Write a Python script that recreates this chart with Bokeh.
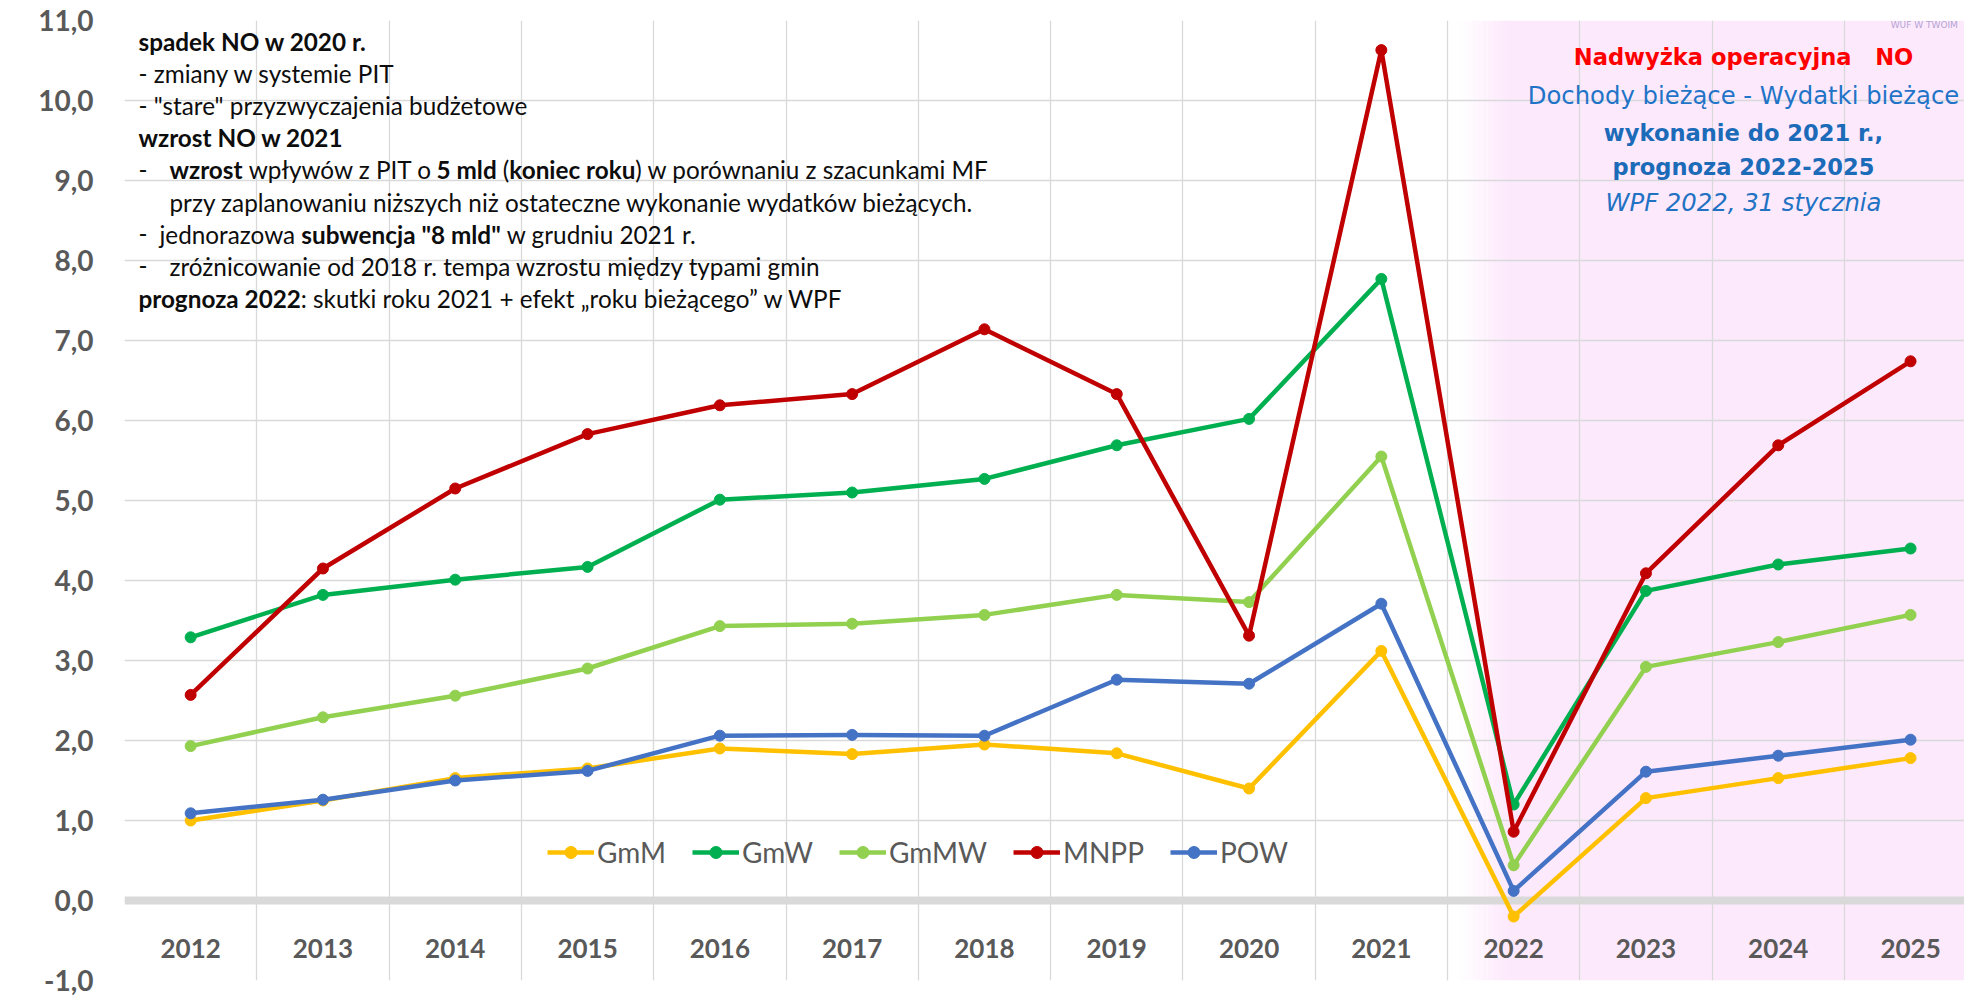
import glob
import math
import numpy as np
from bokeh.plotting import figure
from bokeh.models import FixedTicker, Grid, Span, Legend, LegendItem, Label, ColumnDataSource
from bokeh.core.properties import value
from bokeh.embed import file_html
from bokeh.resources import INLINE

# ---------------- data ----------------
years = ["2012", "2013", "2014", "2015", "2016", "2017", "2018",
         "2019", "2020", "2021", "2022", "2023", "2024", "2025"]
GmM = [1.00, 1.25, 1.53, 1.65, 1.90, 1.83, 1.95, 1.84, 1.40, 3.12, -0.20, 1.28, 1.53, 1.78]
GmW = [3.29, 3.82, 4.01, 4.17, 5.01, 5.10, 5.27, 5.69, 6.02, 7.77, 1.20, 3.87, 4.20, 4.40]
GmMW = [1.93, 2.29, 2.56, 2.90, 3.43, 3.46, 3.57, 3.82, 3.73, 5.55, 0.44, 2.92, 3.23, 3.57]
MNPP = [2.57, 4.15, 5.15, 5.83, 6.19, 6.33, 7.14, 6.33, 3.31, 10.63, 0.86, 4.09, 5.69, 6.74]
POW = [1.09, 1.26, 1.50, 1.62, 2.06, 2.07, 2.06, 2.76, 2.71, 3.71, 0.12, 1.61, 1.81, 2.01]
series_names = ["GmM", "GmW", "GmMW", "MNPP", "POW"]
series_values = [GmM, GmW, GmMW, MNPP, POW]
series_colors = ["#FFC000", "#00B050", "#92D050", "#C00000", "#4472C4"]
y_ticks = list(range(-1, 12))
forecast_start = "2022"

# ---------------- text measurement helpers ----------------
try:
    from PIL import ImageFont
except Exception:
    ImageFont = None

_FONT_FILES = {
    ("Lato", "normal"): ["Lato-Regular.ttf"],
    ("Lato", "bold"): ["Lato-Bold.ttf"],
    ("DejaVu Sans", "normal"): ["DejaVuSans.ttf"],
    ("DejaVu Sans", "bold"): ["DejaVuSans-Bold.ttf"],
    ("DejaVu Sans", "italic"): ["DejaVuSans-Oblique.ttf"],
}
_font_cache = {}


def _font(family, style):
    key = (family, style)
    if key in _font_cache:
        return _font_cache[key]
    f = None
    if ImageFont is not None:
        for n in _FONT_FILES.get(key, []):
            hits = glob.glob(f"/usr/share/fonts/**/{n}", recursive=True) + \
                glob.glob(f"/usr/local/share/fonts/**/{n}", recursive=True)
            if hits:
                try:
                    f = ImageFont.truetype(hits[0], 200)
                    break
                except Exception:
                    f = None
    _font_cache[key] = f
    return f


def text_w(s, family, style, size):
    f = _font(family, style)
    if f is not None:
        return f.getlength(s) * size / 200.0
    return len(s) * size * (0.5 if family == "Lato" else 0.6)


# ---------------- figure ----------------
FRAME_LEFT_PAGE = 124   # page px of frame left edge (page has no margin)
FRAME_TOP_PAGE = 20
PX_PER_CAT = 132.3
FRAME_W = 1840
X_END = FRAME_W / PX_PER_CAT

p = figure(frame_width=FRAME_W, frame_height=960, x_range=(0, X_END), y_range=(-1, 11),
           output_backend="svg", toolbar_location=None, x_axis_location=None,
           min_border_left=FRAME_LEFT_PAGE, min_border_right=0,
           min_border_top=FRAME_TOP_PAGE, min_border_bottom=17)
p.outline_line_color = None
p.background_fill_color = "white"
p.border_fill_color = "white"

# pink forecast background with soft gradient edge
fs = years.index(forecast_start)
pink = (253, 233, 252)
steps = 10
g0, g1 = fs + 0.08, fs + 0.45
edges = np.linspace(g0, g1, steps + 1)
for i in range(steps):
    t = (i + 0.5) / steps
    c = tuple(int(round(255 + (pc - 255) * t)) for pc in pink)
    p.quad(left=[edges[i]], right=[edges[i + 1]], bottom=[-1], top=[11],
           color="#%02x%02x%02x" % c, line_color=None, level="image")
p.quad(left=[g1], right=[X_END], bottom=[-1], top=[11], color="#%02x%02x%02x" % pink,
       line_color=None, level="image")

# grids
p.ygrid.ticker = FixedTicker(ticks=y_ticks)
p.ygrid.grid_line_color = "#D9D9D9"
p.ygrid.grid_line_width = 1.3
p.add_layout(Grid(dimension=0, ticker=FixedTicker(ticks=list(range(len(years) + 1))),
                  grid_line_color="#D9D9D9", grid_line_width=1.3))
p.add_layout(Span(location=0, dimension="width", line_color="#D9D9D9", line_width=8,
                  level="underlay"))

# y axis
p.yaxis.ticker = FixedTicker(ticks=y_ticks)
p.yaxis.major_label_overrides = {t: f"{t},0" for t in y_ticks}
p.yaxis.major_label_text_font = "Lato"
p.yaxis.major_label_text_font_style = "bold"
p.yaxis.major_label_text_font_size = "28px"
p.yaxis.major_label_text_color = "#595959"
p.yaxis.major_label_standoff = 31
p.yaxis.major_tick_out = 0
p.yaxis.major_tick_in = 0
p.yaxis.minor_tick_out = 0
p.yaxis.minor_tick_in = 0
p.yaxis.axis_line_color = None

p.add_layout(Label(x=-0.78, y=10.45, text="Miliardy", angle=math.pi / 2,
                   text_align="center", text_baseline="middle",
                   text_font="DejaVu Sans", text_font_style="bold",
                   text_font_size="14px", text_color="#808080"))

# series
xs = np.arange(len(years)) + 0.5
items = []
for name, vals, color in zip(series_names, series_values, series_colors):
    rl = p.line(xs, vals, line_width=4.5, line_color=color, line_join="round")
    rs = p.scatter(xs, vals, size=11, fill_color=color, line_color=color)
    items.append(LegendItem(label=name, renderers=[rl, rs]))

# year labels inside plot
p.text(x=xs, y=[-0.6] * len(years), text=years, text_align="center", text_baseline="middle",
       text_font=value("Lato"), text_font_style="bold", text_font_size="26px",
       text_color="#595959")

legend = Legend(items=items, orientation="horizontal", location=(423, 111),
                glyph_width=47, glyph_height=30, label_height=30, label_standoff=3,
                spacing=26, padding=0, margin=0,
                label_text_font="Lato", label_text_font_size="28px",
                label_text_color="#595959",
                border_line_color=None, background_fill_alpha=0)
p.add_layout(legend)

# ---------------- left annotation block ----------------
fit_line = "przy zaplanowaniu niższych niż ostateczne wykonanie wydatków bieżących."
ls = 802.0 / text_w(fit_line, "Lato", "normal", 1.0)
ls = max(18.0, min(28.0, ls))

B, R = "bold", "normal"
left_parts = [
    [(138, [("spadek NO w 2020 r.", B)])],
    [(138, [("- zmiany w systemie PIT", R)])],
    [(138, [("- \"stare\" przyzwyczajenia budżetowe", R)])],
    [(138, [("wzrost NO w 2021", B)])],
    [(138, [("-", R)]),
     (169, [("wzrost", B), (" wpływów z PIT o ", R), ("5 mld", B), (" (", R),
            ("koniec roku", B), (") w porównaniu z szacunkami MF", R)])],
    [(169, [(fit_line, R)])],
    [(138, [("-", R)]),
     (159, [("jednorazowa ", R), ("subwencja \"8 mld\"", B), (" w grudniu 2021 r.", R)])],
    [(138, [("-", R)]),
     (169, [("zróżnicowanie od 2018 r. tempa wzrostu między typami gmin", R)])],
    [(138, [("prognoza 2022", B),
            (": skutki roku 2021 + efekt „roku bieżącego” w WPF", R)])],
]
segs = {B: dict(t=[], xo=[], yo=[]), R: dict(t=[], xo=[], yo=[])}
for li, groups in enumerate(left_parts):
    ypx = 41 + 32.1 * li
    for xpx, parts in groups:
        off = xpx - FRAME_LEFT_PAGE
        for txt, st in parts:
            lead = txt[:len(txt) - len(txt.lstrip(" "))]
            shown = txt.strip(" ")
            segs[st]["t"].append(shown)
            segs[st]["xo"].append(off + text_w(lead, "Lato", st, ls))
            segs[st]["yo"].append(ypx - FRAME_TOP_PAGE)
            off += text_w(txt, "Lato", st, ls)
for st, d in segs.items():
    n = len(d["t"])
    src = ColumnDataSource(dict(x=[0] * n, y=[11] * n, t=d["t"], xo=d["xo"], yo=d["yo"]))
    p.text(x="x", y="y", text="t", x_offset="xo", y_offset="yo", source=src,
           text_align="left", text_baseline="middle", text_font=value("Lato"),
           text_font_style=st, text_font_size=f"{ls:.1f}px", text_color="#0D0D0D")

# ---------------- right title block ----------------
rs_ = 432.0 / text_w("Dochody bieżące - Wydatki bieżące", "DejaVu Sans", "normal", 1.0)
rs_ = max(17.0, min(26.0, rs_))
right_lines = [
    (56, "Nadwyżka operacyjna\u00a0\u00a0\u00a0NO", "bold", "#FF0000", 0.93),
    (95, "Dochody bieżące - Wydatki bieżące", "normal", "#1F74C8", 1.0),
    (132, "wykonanie do 2021 r.,", "bold", "#1C6BB8", 0.93),
    (166, "prognoza 2022-2025", "bold", "#1C6BB8", 0.93),
    (202, "WPF 2022, 31 stycznia", "italic", "#2272C3", 1.0),
]
for ypx, txt, st, col, k in right_lines:
    p.text(x=[0], y=[11], text=[txt], x_offset=1743 - FRAME_LEFT_PAGE,
           y_offset=ypx - FRAME_TOP_PAGE, text_align="center", text_baseline="middle",
           text_font=value("DejaVu Sans"), text_font_style=st,
           text_font_size=f"{rs_ * k:.1f}px", text_color=col)

# tiny slide remnants, top right
p.add_layout(Label(x=13.35, y=11.15, text="KATOWICE, POLAND |", text_baseline="middle",
                   text_font="DejaVu Sans", text_font_size="6.5px", text_color="#505050"))
p.add_layout(Label(x=13.35, y=10.95, text="WUF W TWOIM", text_baseline="middle",
                   text_font="DejaVu Sans", text_font_size="9px", text_color="#B4A4D4"))

open("out.html", "w").write(file_html(p, INLINE))
